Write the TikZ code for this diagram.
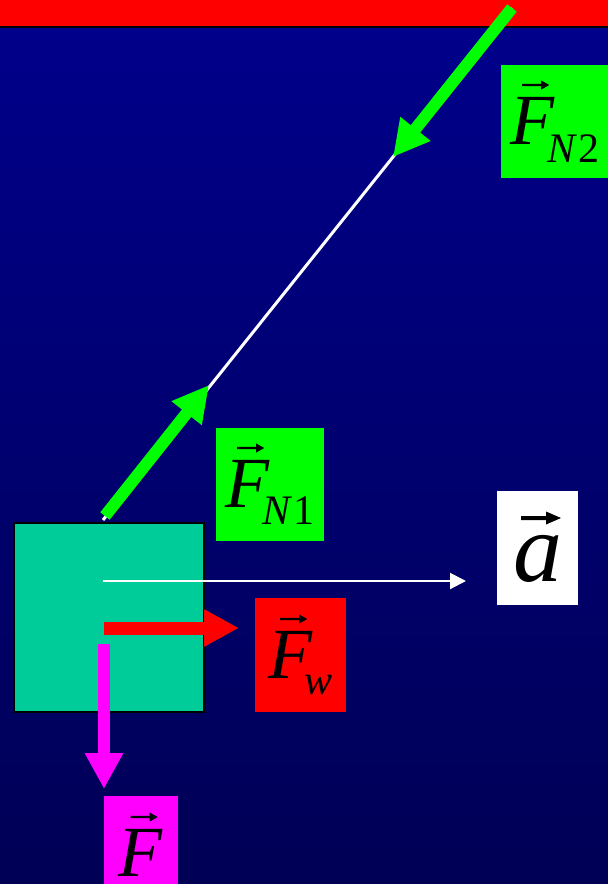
\documentclass[tikz,border=0pt]{standalone}
\usepackage{fontspec}
\setmainfont{Liberation Serif}
\usetikzlibrary{arrows.meta}
\definecolor{bgtop}{RGB}{0,0,140}
\definecolor{bgbot}{RGB}{0,0,85}
\definecolor{blockteal}{RGB}{0,204,153}
\definecolor{fgreen}{RGB}{0,255,0}
\definecolor{fred}{RGB}{255,0,0}
\definecolor{fmag}{RGB}{255,0,255}
% vector arrow: #1 x offset, #2 height above baseline, #3 length, #4 shaft thickness, #5 head length, #6 head width
\newcommand\vecarrow[6]{\rlap{\tikz[baseline=0pt,x=1pt,y=1pt]{\useasboundingbox (0,0);
  \fill[black] (#1,#2+#4/2) -- (#1+#3-#5,#2+#4/2) -- (#1+#3-#5,#2+#6/2) -- (#1+#3,#2)
    -- (#1+#3-#5,#2-#6/2) -- (#1+#3-#5,#2-#4/2) -- (#1,#2-#4/2) -- cycle;}}}
\newcommand\fvec{\vecarrow{12}{59}{27}{2.2}{8}{9}}
\newcommand\bigsz{\fontsize{72}{72}\selectfont}
\newcommand\subsz{\fontsize{42}{42}\selectfont}
\tikzset{
  lbl/.style={inner sep=0pt, text=black, anchor=center},
  forcearrow/.style={line width=12pt, -{Triangle[length=36pt,width=36pt]}},
}
\begin{document}
\begin{tikzpicture}[x=1pt,y=-1pt]
\useasboundingbox (0,0) rectangle (608,884);
\path[clip] (0,0) rectangle (608,884);
% background
\shade[top color=bgtop, bottom color=bgbot] (0,0) rectangle (608,884);
% ceiling
\fill[fred] (0,0) rectangle (608,26);
\draw[black, line width=2pt] (0,27) -- (608,27);
% coordinates
\coordinate (incA) at (103,520);
\coordinate (incB) at (512,8);
\coordinate (n1s) at (105,516);
\coordinate (n1t) at (209,385);
\coordinate (n2t) at (393,157);
\coordinate (acc0) at (103,581);
\coordinate (acc1) at (466,581);
\coordinate (fw0) at (104,628);
\coordinate (fw1) at (239,628);
\coordinate (f0) at (104,644);
\coordinate (f1) at (104,789);
% incline line
\draw[white, line width=3pt] (incA) -- (incB);
% block
\node[draw=black, line width=2pt, fill=blockteal, minimum width=190pt, minimum height=189pt, inner sep=0pt] (block) at (109,617.5) {};
% forces
\draw[forcearrow, fgreen] (n1s) -- (n1t);
\draw[forcearrow, fgreen] (incB) -- (n2t);
\draw[white, line width=2pt, -{Triangle[length=16pt,width=16pt]}] (acc0) -- (acc1);
\draw[line width=13pt, fred, -{Triangle[length=35pt,width=35pt]}] (fw0) -- (fw1);
\draw[forcearrow, fmag] (f0) -- (f1);
% labels
\node[lbl, fill=fgreen, minimum width=108pt, minimum height=113pt, text height=62pt, text depth=17pt] (fn2) at (555,121.5)
  {{\bigsz\fvec\textit{F}}\kern-7pt\raisebox{-18pt}{\subsz\textit{N}\kern1pt 2}};
\node[lbl, fill=fgreen, minimum width=108pt, minimum height=113pt, text height=62pt, text depth=17pt] (fn1) at (270,484.5)
  {{\bigsz\fvec\textit{F}}\kern-7pt\raisebox{-17pt}{\subsz\textit{N}\kern1pt 1}};
\node[lbl, fill=fred, minimum width=91pt, minimum height=114pt, text height=62pt, text depth=16pt] (fwl) at (300.5,655)
  {{\bigsz\fvec\textit{F}}\kern-8pt\raisebox{-16pt}{\subsz\textit{w}}};
\node[lbl, fill=white, minimum width=81pt, minimum height=114pt, text height=70pt, text depth=4pt] (al) at (537.5,548)
  {\fontsize{98}{98}\selectfont\vecarrow{8}{63}{40}{4}{15}{13}\textit{a}};
\node[lbl, fill=fmag, minimum width=74pt, minimum height=98pt, text height=62pt, text depth=0pt] (fl) at (141,845)
  {\bigsz\fvec\textit{F}};
\end{tikzpicture}
\end{document}
